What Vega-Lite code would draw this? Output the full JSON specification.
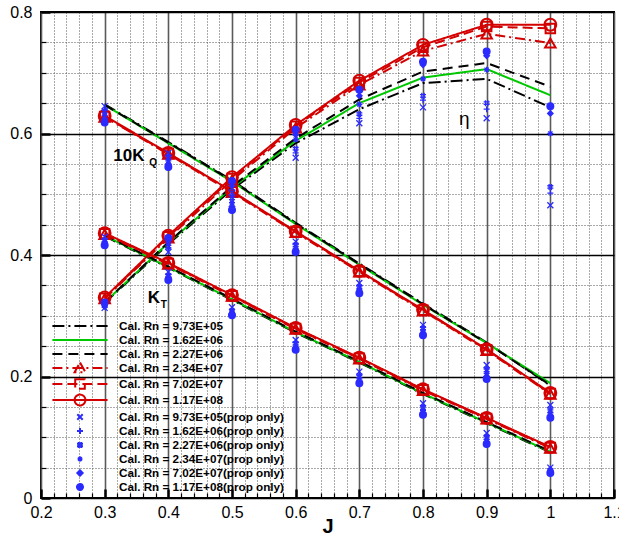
{
  "$schema": "https://vega.github.io/schema/vega-lite/v6.json",
  "width": 573,
  "height": 486,
  "autosize": "none",
  "padding": {"left": 41, "top": 12, "right": 5, "bottom": 40},
  "background": "white",
  "config": {
    "view": {"stroke": "black", "strokeWidth": 2},
    "font": "Liberation Sans",
    "axis": {"labelFont": "Liberation Sans", "titleFont": "Liberation Sans", "labelColor": "black", "titleColor": "black", "tickColor": "black", "domain": false}
  },
  "datasets": {
    "all": [
      {"id": 1, "s": "Cal. Rn = 9.73E+05", "c": "kt", "J": [0.3,0.4,0.5,0.6,0.7,0.8,0.9,1], "v": [0.431,0.379,0.326,0.272,0.223,0.171,0.123,0.075]},
      {"id": 1, "s": "Cal. Rn = 9.73E+05", "c": "kq", "J": [0.3,0.4,0.5,0.6,0.7,0.8,0.9,1], "v": [0.648,0.586,0.523,0.453,0.386,0.320,0.256,0.185]},
      {"id": 1, "s": "Cal. Rn = 9.73E+05", "c": "eta", "J": [0.3,0.4,0.5,0.6,0.7,0.8,0.9,1], "v": [0.321,0.418,0.508,0.584,0.640,0.683,0.690,0.643]},
      {"id": 2, "s": "Cal. Rn = 1.62E+06", "c": "kt", "J": [0.3,0.4,0.5,0.6,0.7,0.8,0.9,1], "v": [0.432,0.380,0.327,0.273,0.224,0.172,0.124,0.076]},
      {"id": 2, "s": "Cal. Rn = 1.62E+06", "c": "kq", "J": [0.3,0.4,0.5,0.6,0.7,0.8,0.9,1], "v": [0.647,0.584,0.521,0.451,0.384,0.318,0.255,0.189]},
      {"id": 2, "s": "Cal. Rn = 1.62E+06", "c": "eta", "J": [0.3,0.4,0.5,0.6,0.7,0.8,0.9,1], "v": [0.322,0.420,0.511,0.588,0.650,0.692,0.706,0.663]},
      {"id": 3, "s": "Cal. Rn = 2.27E+06", "c": "kt", "J": [0.3,0.4,0.5,0.6,0.7,0.8,0.9,1], "v": [0.433,0.381,0.328,0.274,0.225,0.173,0.125,0.077]},
      {"id": 3, "s": "Cal. Rn = 2.27E+06", "c": "kq", "J": [0.3,0.4,0.5,0.6,0.7,0.8,0.9,1], "v": [0.647,0.585,0.522,0.452,0.385,0.319,0.255,0.186]},
      {"id": 3, "s": "Cal. Rn = 2.27E+06", "c": "eta", "J": [0.3,0.4,0.5,0.6,0.7,0.8,0.9,1], "v": [0.322,0.421,0.513,0.592,0.656,0.702,0.716,0.677]},
      {"id": 4, "s": "Cal. Rn = 2.34E+07", "c": "kt", "J": [0.3,0.4,0.5,0.6,0.7,0.8,0.9,1], "v": [0.434,0.385,0.332,0.278,0.229,0.177,0.130,0.082]},
      {"id": 4, "s": "Cal. Rn = 2.34E+07", "c": "kq", "J": [0.3,0.4,0.5,0.6,0.7,0.8,0.9,1], "v": [0.627,0.566,0.503,0.437,0.372,0.308,0.243,0.171]},
      {"id": 4, "s": "Cal. Rn = 2.34E+07", "c": "eta", "J": [0.3,0.4,0.5,0.6,0.7,0.8,0.9,1], "v": [0.328,0.428,0.523,0.609,0.680,0.736,0.764,0.749]},
      {"id": 5, "s": "Cal. Rn = 7.02E+07", "c": "kt", "J": [0.3,0.4,0.5,0.6,0.7,0.8,0.9,1], "v": [0.435,0.386,0.333,0.279,0.230,0.178,0.131,0.083]},
      {"id": 5, "s": "Cal. Rn = 7.02E+07", "c": "kq", "J": [0.3,0.4,0.5,0.6,0.7,0.8,0.9,1], "v": [0.628,0.567,0.504,0.438,0.373,0.309,0.244,0.172]},
      {"id": 5, "s": "Cal. Rn = 7.02E+07", "c": "eta", "J": [0.3,0.4,0.5,0.6,0.7,0.8,0.9,1], "v": [0.329,0.430,0.526,0.612,0.684,0.742,0.776,0.773]},
      {"id": 6, "s": "Cal. Rn = 1.17E+08", "c": "kt", "J": [0.3,0.4,0.5,0.6,0.7,0.8,0.9,1], "v": [0.436,0.387,0.334,0.280,0.231,0.179,0.132,0.084]},
      {"id": 6, "s": "Cal. Rn = 1.17E+08", "c": "kq", "J": [0.3,0.4,0.5,0.6,0.7,0.8,0.9,1], "v": [0.629,0.568,0.505,0.439,0.374,0.310,0.245,0.173]},
      {"id": 6, "s": "Cal. Rn = 1.17E+08", "c": "eta", "J": [0.3,0.4,0.5,0.6,0.7,0.8,0.9,1], "v": [0.330,0.432,0.528,0.614,0.687,0.746,0.779,0.779]},
      {"id": 7, "s": "Cal. Rn = 9.73E+05(prop only)", "c": "kt", "J": [0.3,0.4,0.5,0.6,0.7,0.8,0.9,1], "v": [0.430,0.372,0.314,0.260,0.208,0.156,0.107,0.050]},
      {"id": 7, "s": "Cal. Rn = 9.73E+05(prop only)", "c": "kq", "J": [0.3,0.4,0.5,0.6,0.7,0.8,0.9,1], "v": [0.645,0.568,0.503,0.422,0.354,0.285,0.219,0.153]},
      {"id": 7, "s": "Cal. Rn = 9.73E+05(prop only)", "c": "eta", "J": [0.3,0.4,0.5,0.6,0.7,0.8,0.9,1], "v": [0.313,0.405,0.510,0.560,0.617,0.643,0.625,0.482]},
      {"id": 8, "s": "Cal. Rn = 1.62E+06(prop only)", "c": "kt", "J": [0.3,0.4,0.5,0.6,0.7,0.8,0.9,1], "v": [0.427,0.369,0.311,0.257,0.204,0.152,0.103,0.048]},
      {"id": 8, "s": "Cal. Rn = 1.62E+06(prop only)", "c": "kq", "J": [0.3,0.4,0.5,0.6,0.7,0.8,0.9,1], "v": [0.640,0.564,0.498,0.419,0.350,0.282,0.214,0.148]},
      {"id": 8, "s": "Cal. Rn = 1.62E+06(prop only)", "c": "eta", "J": [0.3,0.4,0.5,0.6,0.7,0.8,0.9,1], "v": [0.315,0.410,0.513,0.568,0.625,0.655,0.640,0.502]},
      {"id": 9, "s": "Cal. Rn = 2.27E+06(prop only)", "c": "kt", "J": [0.3,0.4,0.5,0.6,0.7,0.8,0.9,1], "v": [0.424,0.366,0.308,0.254,0.200,0.148,0.099,0.046]},
      {"id": 9, "s": "Cal. Rn = 2.27E+06(prop only)", "c": "kq", "J": [0.3,0.4,0.5,0.6,0.7,0.8,0.9,1], "v": [0.636,0.560,0.493,0.416,0.347,0.279,0.210,0.143]},
      {"id": 9, "s": "Cal. Rn = 2.27E+06(prop only)", "c": "eta", "J": [0.3,0.4,0.5,0.6,0.7,0.8,0.9,1], "v": [0.316,0.414,0.515,0.575,0.632,0.662,0.650,0.512]},
      {"id": 10, "s": "Cal. Rn = 2.34E+07(prop only)", "c": "kt", "J": [0.3,0.4,0.5,0.6,0.7,0.8,0.9,1], "v": [0.421,0.364,0.306,0.250,0.196,0.144,0.096,0.045]},
      {"id": 10, "s": "Cal. Rn = 2.34E+07(prop only)", "c": "kq", "J": [0.3,0.4,0.5,0.6,0.7,0.8,0.9,1], "v": [0.630,0.555,0.486,0.411,0.343,0.275,0.205,0.140]},
      {"id": 10, "s": "Cal. Rn = 2.34E+07(prop only)", "c": "eta", "J": [0.3,0.4,0.5,0.6,0.7,0.8,0.9,1], "v": [0.318,0.420,0.518,0.590,0.648,0.690,0.705,0.600]},
      {"id": 11, "s": "Cal. Rn = 7.02E+07(prop only)", "c": "kt", "J": [0.3,0.4,0.5,0.6,0.7,0.8,0.9,1], "v": [0.418,0.362,0.303,0.247,0.192,0.140,0.092,0.043]},
      {"id": 11, "s": "Cal. Rn = 7.02E+07(prop only)", "c": "kq", "J": [0.3,0.4,0.5,0.6,0.7,0.8,0.9,1], "v": [0.624,0.550,0.480,0.408,0.340,0.271,0.200,0.136]},
      {"id": 11, "s": "Cal. Rn = 7.02E+07(prop only)", "c": "eta", "J": [0.3,0.4,0.5,0.6,0.7,0.8,0.9,1], "v": [0.320,0.424,0.520,0.598,0.662,0.713,0.728,0.633]},
      {"id": 12, "s": "Cal. Rn = 1.17E+08(prop only)", "c": "kt", "J": [0.3,0.4,0.5,0.6,0.7,0.8,0.9,1], "v": [0.416,0.359,0.301,0.244,0.189,0.137,0.089,0.041]},
      {"id": 12, "s": "Cal. Rn = 1.17E+08(prop only)", "c": "kq", "J": [0.3,0.4,0.5,0.6,0.7,0.8,0.9,1], "v": [0.618,0.545,0.474,0.405,0.337,0.268,0.196,0.132]},
      {"id": 12, "s": "Cal. Rn = 1.17E+08(prop only)", "c": "eta", "J": [0.3,0.4,0.5,0.6,0.7,0.8,0.9,1], "v": [0.322,0.428,0.522,0.606,0.672,0.718,0.735,0.645]}
    ]
  },
  "encoding": {
    "x": {
      "field": "J", "type": "quantitative",
      "scale": {"domain": [0.2, 1.1], "nice": false, "zero": false},
      "axis": {
        "title": "J", "titleFontSize": 20, "titleFontWeight": "bold", "titlePadding": -8,
        "values": [0.2,0.22,0.24,0.26,0.28,0.3,0.32,0.34,0.36,0.38,0.4,0.42,0.44,0.46,0.48,0.5,0.52,0.54,0.56,0.58,0.6,0.62,0.64,0.66,0.68,0.7,0.72,0.74,0.76,0.78,0.8,0.82,0.84,0.86,0.88,0.9,0.92,0.94,0.96,0.98,1,1.02,1.04,1.06,1.08,1.1],
        "labelExpr": "abs(datum.value*10 - round(datum.value*10)) < 0.001 ? format(datum.value, '~g') : ''",
        "labelFontSize": 16, "labelPadding": 15, "labelFlush": false, "labelOverlap": false,
        "grid": true,
        "gridColor": {"condition": {"test": "abs(datum.value*10 - round(datum.value*10)) < 0.001", "value": "#5a5a5a"}, "value": "#555555"},
        "gridDash": {"condition": {"test": "abs(datum.value*10 - round(datum.value*10)) < 0.001", "value": []}, "value": [1, 2]},
        "gridWidth": {"condition": {"test": "abs(datum.value*10 - round(datum.value*10)) < 0.001", "value": 1.6}, "value": 1},
        "tickSize": {"condition": {"test": "abs(datum.value*10 - round(datum.value*10)) < 0.001", "value": -9}, "value": -5},
        "tickWidth": {"condition": {"test": "abs(datum.value*10 - round(datum.value*10)) < 0.001", "value": 2.5}, "value": 1.2}
      }
    },
    "y": {
      "field": "v", "type": "quantitative",
      "scale": {"domain": [0, 0.8], "nice": false, "zero": false},
      "axis": {
        "title": null,
        "values": [0,0.05,0.1,0.15,0.2,0.25,0.3,0.35,0.4,0.45,0.5,0.55,0.6,0.65,0.7,0.75,0.8],
        "labelExpr": "abs(datum.value*5 - round(datum.value*5)) < 0.001 ? format(datum.value, '~g') : ''",
        "labelFontSize": 16, "labelPadding": 18, "labelFlush": false, "labelOverlap": false,
        "grid": true,
        "gridColor": {"condition": {"test": "abs(datum.value*5 - round(datum.value*5)) < 0.001", "value": "#000000"}, "value": "#555555"},
        "gridDash": {"condition": {"test": "abs(datum.value*5 - round(datum.value*5)) < 0.001", "value": []}, "value": [1, 2]},
        "gridWidth": {"condition": {"test": "abs(datum.value*5 - round(datum.value*5)) < 0.001", "value": 1.3}, "value": 1},
        "tickSize": {"condition": {"test": "abs(datum.value*5 - round(datum.value*5)) < 0.001", "value": -9}, "value": -5},
        "tickWidth": {"condition": {"test": "abs(datum.value*5 - round(datum.value*5)) < 0.001", "value": 2.5}, "value": 1.2}
      }
    }
  },
  "layer": [
    {
      "data": {"name": "all"},
      "transform": [{"filter": "datum.id <= 6"}, {"flatten": ["J", "v"]}],
      "mark": {"type": "line", "strokeWidth": 2},
      "encoding": {
        "detail": [{"field": "id", "type": "nominal"}, {"field": "c", "type": "nominal"}],
        "color": {"condition": [{"test": "datum.id == 2", "value": "#00c800"}, {"test": "datum.id >= 4", "value": "#d40000"}], "value": "#000000"},
        "strokeDash": {"condition": [{"test": "datum.id == 1", "value": [12, 4, 2, 4]}, {"test": "datum.id == 3", "value": [10, 6]}, {"test": "datum.id == 4", "value": [10, 4, 2, 4]}, {"test": "datum.id == 5", "value": [10, 5]}], "value": [1, 0]}
      }
    },
    {
      "data": {"name": "all"},
      "transform": [{"filter": "datum.id >= 4"}, {"flatten": ["J", "v"]}],
      "mark": {"type": "point", "filled": false, "opacity": 1},
      "encoding": {
        "shape": {"condition": [
          {"test": "datum.id == 4", "value": "triangle-up"},
          {"test": "datum.id == 5", "value": "square"},
          {"test": "datum.id == 6", "value": "circle"},
          {"test": "datum.id == 7", "value": "M-1,-1L1,1M-1,1L1,-1"},
          {"test": "datum.id == 8", "value": "M-1,0H1M0,-1V1"},
          {"test": "datum.id == 9", "value": "M-1,-0.4H1M-1,0.4H1M-0.4,-1V1M0.4,-1V1"},
          {"test": "datum.id == 10", "value": "M-1,0H1M0,-1V1M-0.7,-0.7L0.7,0.7M-0.7,0.7L0.7,-0.7"},
          {"test": "datum.id == 11", "value": "diamond"}
        ], "value": "circle"},
        "size": {"condition": [
          {"test": "datum.id == 4", "value": 110},
          {"test": "datum.id == 5", "value": 90},
          {"test": "datum.id == 6", "value": 140},
          {"test": "datum.id == 11", "value": 30},
          {"test": "datum.id <= 10", "value": 36}
        ], "value": 45},
        "color": {"condition": {"test": "datum.id <= 6", "value": "#d40000"}, "value": "#2b2bff"},
        "fill": {"condition": {"test": "datum.id >= 11", "value": "#2b2bff"}, "value": "transparent"},
        "strokeWidth": {"condition": {"test": "datum.id <= 6", "value": 2}, "value": 1.3}
      }
    },
    {
      "data": {"values": []},
      "mark": {"type": "point", "filled": false, "opacity": 1},
      "encoding": {
        "color": {
          "field": "s", "type": "nominal",
          "scale": {
            "domain": ["Cal. Rn = 9.73E+05","Cal. Rn = 1.62E+06","Cal. Rn = 2.27E+06","Cal. Rn = 2.34E+07","Cal. Rn = 7.02E+07","Cal. Rn = 1.17E+08","Cal. Rn = 9.73E+05(prop only)","Cal. Rn = 1.62E+06(prop only)","Cal. Rn = 2.27E+06(prop only)","Cal. Rn = 2.34E+07(prop only)","Cal. Rn = 7.02E+07(prop only)","Cal. Rn = 1.17E+08(prop only)"],
            "range": ["#000000","#00c800","#000000","#d40000","#d40000","#d40000","#2b2bff","#2b2bff","#2b2bff","#2b2bff","#2b2bff","#2b2bff"]
          },
          "legend": {"title": null, "orient": "none", "legendX": 32, "legendY": 307, "padding": 0, "symbolSize": 144, "symbolStrokeWidth": 2, "labelFont": "Liberation Sans", "labelFontSize": 11.7, "labelFontWeight": "bold", "labelColor": "black", "labelOffset": 32, "labelLimit": 400, "rowPadding": -3}
        },
        "shape": {
          "field": "s", "type": "nominal",
          "scale": {
            "domain": ["Cal. Rn = 9.73E+05","Cal. Rn = 1.62E+06","Cal. Rn = 2.27E+06","Cal. Rn = 2.34E+07","Cal. Rn = 7.02E+07","Cal. Rn = 1.17E+08","Cal. Rn = 9.73E+05(prop only)","Cal. Rn = 1.62E+06(prop only)","Cal. Rn = 2.27E+06(prop only)","Cal. Rn = 2.34E+07(prop only)","Cal. Rn = 7.02E+07(prop only)","Cal. Rn = 1.17E+08(prop only)"],
            "range": ["M-4.6,0H4.6","M-4.6,0H4.6","M-4.6,0H4.6","M-4.6,0H4.6M0,-0.9L0.9,0.7L-0.9,0.7Z","M-4.6,0H4.6M-0.8,-0.8H0.8V0.8H-0.8Z","M-4.6,0H4.6M0.9,0A0.9,0.9 0 1,1 -0.9,0A0.9,0.9 0 1,1 0.9,0","M-0.45,-0.45L0.45,0.45M-0.45,0.45L0.45,-0.45","M-0.5,0H0.5M0,-0.5V0.5","M-0.5,-0.2H0.5M-0.5,0.2H0.5M-0.2,-0.5V0.5M0.2,-0.5V0.5","M-0.4,0H0.4M0,-0.4V0.4M-0.3,-0.3L0.3,0.3M-0.3,0.3L0.3,-0.3","M0,-0.45L0.45,0L0,0.45L-0.45,0Z","M0.5,0A0.5,0.5 0 1,1 -0.5,0A0.5,0.5 0 1,1 0.5,0"]
          }
        },
        "strokeDash": {
          "field": "s", "type": "nominal",
          "scale": {
            "domain": ["Cal. Rn = 9.73E+05","Cal. Rn = 1.62E+06","Cal. Rn = 2.27E+06","Cal. Rn = 2.34E+07","Cal. Rn = 7.02E+07","Cal. Rn = 1.17E+08","Cal. Rn = 9.73E+05(prop only)","Cal. Rn = 1.62E+06(prop only)","Cal. Rn = 2.27E+06(prop only)","Cal. Rn = 2.34E+07(prop only)","Cal. Rn = 7.02E+07(prop only)","Cal. Rn = 1.17E+08(prop only)"],
            "range": [[12,4,2,4],[1,0],[10,6],[10,4,2,4],[10,5],[1,0],[1,0],[1,0],[1,0],[1,0],[1,0],[1,0]]
          }
        },
        "fill": {
          "field": "s", "type": "nominal",
          "scale": {
            "domain": ["Cal. Rn = 9.73E+05","Cal. Rn = 1.62E+06","Cal. Rn = 2.27E+06","Cal. Rn = 2.34E+07","Cal. Rn = 7.02E+07","Cal. Rn = 1.17E+08","Cal. Rn = 9.73E+05(prop only)","Cal. Rn = 1.62E+06(prop only)","Cal. Rn = 2.27E+06(prop only)","Cal. Rn = 2.34E+07(prop only)","Cal. Rn = 7.02E+07(prop only)","Cal. Rn = 1.17E+08(prop only)"],
            "range": ["transparent","transparent","transparent","transparent","transparent","transparent","transparent","transparent","transparent","transparent","#2b2bff","#2b2bff"]
          }
        }
      }
    },
    {
      "data": {"values": [{"J": 0.338, "v": 0.555, "t": "10K"}, {"J": 0.3775, "v": 0.321, "t": "K"}]},
      "mark": {"type": "text", "font": "Liberation Sans", "fontSize": 17, "fontWeight": "bold", "align": "center", "baseline": "alphabetic", "color": "black"},
      "encoding": {"text": {"field": "t"}}
    },
    {
      "data": {"values": [{"J": 0.376, "v": 0.546, "t": "Q"}, {"J": 0.393, "v": 0.312, "t": "T"}]},
      "mark": {"type": "text", "font": "Liberation Sans", "fontSize": 10, "fontWeight": "bold", "align": "center", "baseline": "alphabetic", "color": "black"},
      "encoding": {"text": {"field": "t"}}
    },
    {
      "data": {"values": [{"J": 0.865, "v": 0.614, "t": "η"}]},
      "mark": {"type": "text", "font": "Liberation Sans", "fontSize": 19, "align": "center", "baseline": "alphabetic", "color": "black"},
      "encoding": {"text": {"field": "t"}}
    }
  ]
}
